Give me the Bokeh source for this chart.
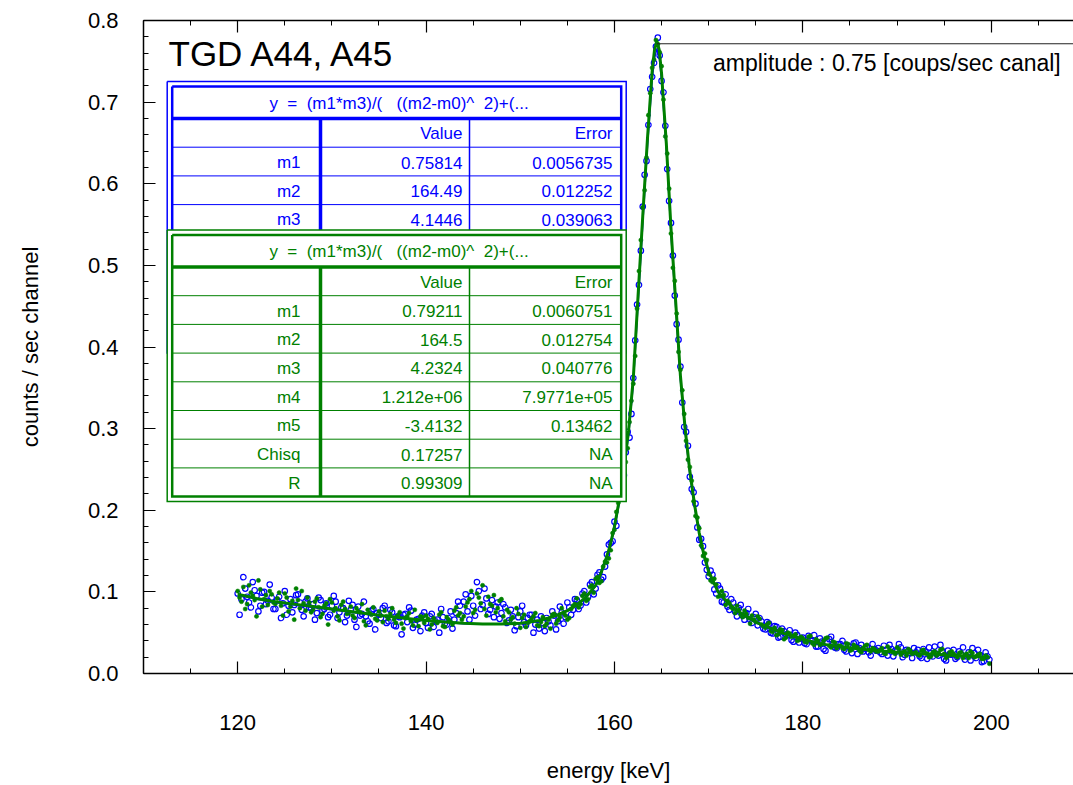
import numpy as np
from bokeh.plotting import figure
from bokeh.models import (ColumnDataSource, FixedTicker, PrintfTickFormatter,
                          LinearAxis, Range1d, CustomJSTickFormatter)
from bokeh.core.properties import value
from bokeh.embed import file_html
from bokeh.resources import INLINE

BLUE = "#0000ff"
GREEN = "#008000"
FONT = "Liberation Sans"

# ---------------- data ----------------
# blue series (open circles), channels at 120.0, 120.4, ... and 120.2, 120.6, ...
blue_energy_a = [round(120.0 + 0.4 * k, 1) for k in range(200)]
blue_counts_a = [
    0.098, 0.091, 0.104, 0.087, 0.112, 0.095, 0.083, 0.100, 0.089, 0.093,
    0.079, 0.094, 0.086, 0.072, 0.091, 0.084, 0.097, 0.078, 0.088, 0.081,
    0.085, 0.074, 0.090, 0.079, 0.069, 0.083, 0.088, 0.075, 0.080, 0.071,
    0.078, 0.066, 0.082, 0.073, 0.070, 0.061, 0.079, 0.074, 0.068, 0.083,
    0.064, 0.075, 0.058, 0.069, 0.072, 0.063, 0.077, 0.060, 0.067, 0.071,
    0.062, 0.070, 0.057, 0.066, 0.079, 0.061, 0.068, 0.055, 0.074, 0.083,
    0.088, 0.076, 0.095, 0.071, 0.101, 0.084, 0.092, 0.078, 0.069, 0.087,
    0.074, 0.081, 0.065, 0.070, 0.058, 0.076, 0.063, 0.068, 0.072, 0.060,
    0.055, 0.062, 0.068, 0.059, 0.071, 0.064, 0.075, 0.069, 0.081, 0.078,
    0.090, 0.083, 0.101, 0.094, 0.112, 0.104, 0.124, 0.118, 0.146, 0.160,
    0.186, 0.214, 0.228, 0.271, 0.289, 0.362, 0.452, 0.518, 0.611, 0.672,
    0.731, 0.768, 0.757, 0.712, 0.618, 0.552, 0.463, 0.409, 0.332, 0.296,
    0.241, 0.222, 0.179, 0.165, 0.136, 0.119, 0.121, 0.098, 0.104, 0.087,
    0.082, 0.091, 0.076, 0.080, 0.071, 0.074, 0.066, 0.069, 0.059, 0.064,
    0.054, 0.061, 0.049, 0.057, 0.045, 0.052, 0.047, 0.041, 0.050, 0.038,
    0.044, 0.036, 0.041, 0.047, 0.033, 0.039, 0.028, 0.042, 0.035, 0.031,
    0.036, 0.029, 0.034, 0.025, 0.038, 0.031, 0.027, 0.033, 0.022, 0.030,
    0.031, 0.024, 0.029, 0.035, 0.021, 0.027, 0.032, 0.023, 0.028, 0.019,
    0.026, 0.021, 0.030, 0.018, 0.025, 0.033, 0.022, 0.027, 0.016, 0.024,
    0.029, 0.020, 0.024, 0.017, 0.026, 0.031, 0.019, 0.023, 0.015, 0.021,
]
blue_energy_b = [round(120.2 + 0.4 * k, 1) for k in range(200)]
blue_counts_b = [
    0.072, 0.118, 0.094, 0.081, 0.102, 0.076, 0.099, 0.085, 0.109, 0.079,
    0.090, 0.068, 0.101, 0.083, 0.075, 0.096, 0.087, 0.070, 0.092, 0.080,
    0.066, 0.093, 0.077, 0.086, 0.072, 0.095, 0.068, 0.081, 0.063, 0.089,
    0.084, 0.057, 0.071, 0.088, 0.064, 0.077, 0.054, 0.072, 0.080, 0.062,
    0.078, 0.059, 0.070, 0.048, 0.073, 0.081, 0.056, 0.066, 0.052, 0.075,
    0.056, 0.073, 0.064, 0.050, 0.069, 0.060, 0.076, 0.066, 0.088, 0.071,
    0.097, 0.066, 0.083, 0.112, 0.079, 0.104, 0.073, 0.090, 0.082, 0.067,
    0.085, 0.062, 0.078, 0.053, 0.069, 0.083, 0.059, 0.072, 0.050, 0.066,
    0.070, 0.052, 0.064, 0.076, 0.054, 0.082, 0.061, 0.087, 0.072, 0.091,
    0.079, 0.098, 0.087, 0.109, 0.097, 0.121, 0.115, 0.131, 0.158, 0.162,
    0.181, 0.232, 0.243, 0.296, 0.318, 0.408, 0.476, 0.572, 0.628, 0.716,
    0.748, 0.779, 0.726, 0.671, 0.579, 0.512, 0.428, 0.376, 0.302, 0.279,
    0.226, 0.208, 0.164, 0.156, 0.127, 0.126, 0.103, 0.108, 0.088, 0.097,
    0.078, 0.087, 0.070, 0.084, 0.066, 0.079, 0.062, 0.073, 0.068, 0.055,
    0.063, 0.050, 0.058, 0.044, 0.055, 0.048, 0.053, 0.039, 0.047, 0.043,
    0.037, 0.046, 0.040, 0.033, 0.043, 0.030, 0.038, 0.045, 0.032, 0.036,
    0.040, 0.027, 0.033, 0.037, 0.024, 0.035, 0.030, 0.026, 0.036, 0.028,
    0.026, 0.034, 0.022, 0.030, 0.028, 0.036, 0.020, 0.029, 0.025, 0.031,
    0.029, 0.019, 0.027, 0.032, 0.021, 0.024, 0.035, 0.018, 0.028, 0.023,
    0.018, 0.027, 0.032, 0.021, 0.016, 0.025, 0.029, 0.014, 0.026, 0.017,
]
# green series (filled dots)
green_energy_a = [round(120.2 + 0.4 * k, 1) for k in range(200)]
green_counts_a = [
    0.093, 0.106, 0.085, 0.099, 0.090, 0.114, 0.082, 0.096, 0.101, 0.087,
    0.092, 0.083, 0.098, 0.076, 0.089, 0.104, 0.080, 0.086, 0.093, 0.075,
    0.088, 0.081, 0.073, 0.086, 0.091, 0.077, 0.070, 0.084, 0.079, 0.074,
    0.071, 0.080, 0.075, 0.064, 0.078, 0.072, 0.067, 0.076, 0.063, 0.070,
    0.073, 0.066, 0.071, 0.061, 0.068, 0.074, 0.059, 0.065, 0.070, 0.062,
    0.067, 0.060, 0.064, 0.072, 0.058, 0.069, 0.063, 0.077, 0.071, 0.066,
    0.082, 0.091, 0.074, 0.098, 0.086, 0.079, 0.094, 0.083, 0.075, 0.089,
    0.070, 0.078, 0.066, 0.061, 0.073, 0.068, 0.057, 0.064, 0.070, 0.059,
    0.063, 0.058, 0.066, 0.072, 0.061, 0.069, 0.074, 0.066, 0.079, 0.085,
    0.081, 0.095, 0.089, 0.106, 0.099, 0.118, 0.113, 0.137, 0.141, 0.172,
    0.198, 0.214, 0.252, 0.276, 0.334, 0.389, 0.493, 0.571, 0.632, 0.711,
    0.752, 0.771, 0.744, 0.658, 0.594, 0.497, 0.441, 0.372, 0.318, 0.262,
    0.236, 0.193, 0.178, 0.144, 0.139, 0.114, 0.116, 0.094, 0.101, 0.084,
    0.086, 0.079, 0.083, 0.072, 0.077, 0.068, 0.071, 0.063, 0.067, 0.058,
    0.060, 0.052, 0.056, 0.048, 0.053, 0.044, 0.049, 0.046, 0.040, 0.045,
    0.039, 0.045, 0.037, 0.042, 0.035, 0.040, 0.044, 0.032, 0.038, 0.034,
    0.031, 0.037, 0.028, 0.035, 0.032, 0.026, 0.034, 0.029, 0.031, 0.027,
    0.029, 0.025, 0.033, 0.027, 0.024, 0.030, 0.026, 0.022, 0.028, 0.025,
    0.023, 0.028, 0.025, 0.020, 0.026, 0.022, 0.029, 0.024, 0.021, 0.027,
    0.022, 0.025, 0.019, 0.024, 0.027, 0.020, 0.023, 0.018, 0.022, 0.012,
]
green_energy_b = [round(120.0 + 0.4 * k, 1) for k in range(200)]
green_counts_b = [
    0.101, 0.088, 0.079, 0.108, 0.095, 0.070, 0.103, 0.091, 0.084, 0.097,
    0.085, 0.099, 0.071, 0.093, 0.082, 0.066, 0.090, 0.101, 0.077, 0.087,
    0.078, 0.092, 0.069, 0.083, 0.060, 0.087, 0.080, 0.065, 0.088, 0.073,
    0.082, 0.068, 0.076, 0.085, 0.059, 0.074, 0.081, 0.065, 0.071, 0.077,
    0.067, 0.080, 0.062, 0.075, 0.055, 0.070, 0.064, 0.078, 0.058, 0.069,
    0.071, 0.054, 0.068, 0.062, 0.075, 0.057, 0.066, 0.060, 0.081, 0.074,
    0.070, 0.087, 0.101, 0.078, 0.093, 0.108, 0.071, 0.085, 0.096, 0.080,
    0.091, 0.064, 0.075, 0.069, 0.080, 0.056, 0.072, 0.062, 0.067, 0.074,
    0.058, 0.069, 0.061, 0.055, 0.073, 0.065, 0.080, 0.071, 0.068, 0.083,
    0.092, 0.085, 0.098, 0.091, 0.108, 0.116, 0.111, 0.131, 0.136, 0.151,
    0.176, 0.209, 0.238, 0.259, 0.308, 0.355, 0.447, 0.531, 0.592, 0.684,
    0.742, 0.776, 0.761, 0.703, 0.637, 0.539, 0.481, 0.394, 0.347, 0.285,
    0.253, 0.211, 0.191, 0.157, 0.147, 0.122, 0.112, 0.109, 0.095, 0.096,
    0.089, 0.081, 0.074, 0.078, 0.069, 0.073, 0.061, 0.066, 0.070, 0.060,
    0.056, 0.062, 0.051, 0.047, 0.054, 0.042, 0.050, 0.045, 0.048, 0.041,
    0.043, 0.038, 0.046, 0.035, 0.040, 0.036, 0.043, 0.034, 0.039, 0.031,
    0.034, 0.030, 0.036, 0.029, 0.033, 0.028, 0.031, 0.035, 0.027, 0.030,
    0.027, 0.031, 0.024, 0.029, 0.026, 0.032, 0.023, 0.027, 0.030, 0.024,
    0.026, 0.022, 0.029, 0.024, 0.021, 0.027, 0.025, 0.030, 0.019, 0.026,
    0.024, 0.020, 0.026, 0.023, 0.019, 0.025, 0.021, 0.024, 0.018, 0.020,
]

fit_energy = [120, 122, 124, 126, 128, 130, 132, 134, 136, 138, 140, 142, 144, 146, 148, 150,
              151, 152, 153, 154, 155, 156, 157,
              158, 158.5, 159, 159.5, 160, 160.5, 161, 161.5, 162, 162.5, 163, 163.5, 164,
              164.25, 164.5, 164.75,
              165, 165.5, 166, 166.5, 167, 167.5, 168, 168.5, 169, 169.5, 170,
              171, 172, 173, 174, 175, 176,
              178, 180, 182, 184, 186, 188, 190, 192, 194, 196, 198, 199.5]
green_fit = [0.097, 0.092, 0.088, 0.085, 0.082, 0.079, 0.076, 0.073, 0.070, 0.0675, 0.065, 0.063, 0.0615, 0.0607, 0.0605, 0.0615,
             0.063, 0.065, 0.068, 0.072, 0.077, 0.084, 0.094,
             0.108, 0.121, 0.137, 0.155, 0.180, 0.212, 0.252, 0.298, 0.362, 0.462, 0.560, 0.655, 0.738,
             0.764, 0.775, 0.764,
             0.735, 0.650, 0.545, 0.455, 0.365, 0.300, 0.248, 0.207, 0.172, 0.145, 0.125,
             0.100, 0.087, 0.077, 0.070, 0.063, 0.058,
             0.049, 0.042, 0.036, 0.033, 0.030, 0.028, 0.026, 0.0245, 0.0235, 0.022, 0.021, 0.020]
blue_fit = [0.096, 0.091, 0.087, 0.084, 0.081, 0.078, 0.075, 0.072, 0.0695, 0.067, 0.0645, 0.0625, 0.061, 0.0603, 0.0602, 0.0612,
            0.0625, 0.0645, 0.0675, 0.0715, 0.0765, 0.0835, 0.093,
            0.107, 0.120, 0.135, 0.153, 0.177, 0.208, 0.247, 0.292, 0.355, 0.452, 0.550, 0.645, 0.727,
            0.754, 0.765, 0.755,
            0.726, 0.642, 0.538, 0.448, 0.359, 0.295, 0.244, 0.204, 0.170, 0.143, 0.123,
            0.099, 0.086, 0.076, 0.069, 0.062, 0.057,
            0.048, 0.041, 0.0355, 0.0325, 0.0297, 0.0277, 0.0258, 0.0243, 0.0232, 0.0218, 0.0208, 0.0199]

x_ticks = [120, 140, 160, 180, 200]
x_minor = [110 + 5 * i for i in range(20)]
y_ticks = [round(0.1 * i, 1) for i in range(9)]
y_minor = [round(0.02 * i, 2) for i in range(41)]

title_text = "TGD A44, A45"
amp_text = "amplitude : 0.75 [coups/sec canal]"
amp_level = 0.7715
amp_peak = 164.5

NB = "\u00a0"
formula_text = "y " + NB + "= " + NB + "(m1*m3)/( " + NB + NB + "((m2-m0)^ " + NB + "2)+(..."
table_header = ["", "Value", "Error"]
blue_rows = [["m1", "0.75814", "0.0056735"],
             ["m2", "164.49", "0.012252"],
             ["m3", "4.1446", "0.039063"]]
green_rows = [["m1", "0.79211", "0.0060751"],
              ["m2", "164.5", "0.012754"],
              ["m3", "4.2324", "0.040776"],
              ["m4", "1.212e+06", "7.9771e+05"],
              ["m5", "-3.4132", "0.13462"],
              ["Chisq", "0.17257", "NA"],
              ["R", "0.99309", "NA"]]

# ---------------- figure ----------------
X0, X1 = 110.0, 208.73
Y0, Y1 = 0.0, 0.8
FRAME_L, FRAME_R, FRAME_T, FRAME_B = 143.0, 1073.0, 20.0, 673.0


def px_x(px):
    return X0 + (px - FRAME_L) * (X1 - X0) / (FRAME_R - FRAME_L)


def px_y(py):
    return Y1 - (py - FRAME_T) * (Y1 - Y0) / (FRAME_B - FRAME_T)


p = figure(width=1073, height=785, x_range=Range1d(X0, X1), y_range=Range1d(Y0, Y1),
           output_backend="svg", toolbar_location=None,
           min_border_left=143, min_border_right=0, min_border_top=20, min_border_bottom=112,
           x_axis_label="energy [keV]", y_axis_label="counts / sec channel")
p.grid.visible = False
p.outline_line_color = None
p.background_fill_color = "white"
p.border_fill_color = "white"

xa = p.below[0]
ya = p.left[0]
for ax in (xa, ya):
    ax.axis_line_color = "black"
    ax.axis_line_width = 1.5
    ax.major_tick_line_color = "black"
    ax.minor_tick_line_color = "black"
    ax.major_tick_line_width = 1.2
    ax.minor_tick_line_width = 1.0
    ax.major_tick_in = 12
    ax.major_tick_out = 0
    ax.minor_tick_in = 5
    ax.minor_tick_out = 0
    ax.major_label_text_font = FONT
    ax.major_label_text_font_size = "22px"
    ax.major_label_text_color = "black"
    ax.axis_label_text_font = FONT
    ax.axis_label_text_font_size = "22px"
    ax.axis_label_text_font_style = "normal"
    ax.axis_label_text_color = "black"

xa.ticker = FixedTicker(ticks=x_ticks, minor_ticks=x_minor)
xa.major_label_standoff = 41
xa.axis_label_standoff = 25
ya.ticker = FixedTicker(ticks=y_ticks, minor_ticks=y_minor)
ya.formatter = PrintfTickFormatter(format="%.1f")
ya.major_label_standoff = 25
ya.axis_label_standoff = 42

top = LinearAxis(ticker=FixedTicker(ticks=x_ticks, minor_ticks=x_minor),
                 formatter=CustomJSTickFormatter(code="return ''"),
                 major_label_text_font_size="0px", major_label_standoff=0,
                 axis_line_color="black", axis_line_width=1.5,
                 major_tick_in=12, major_tick_out=0, minor_tick_in=5, minor_tick_out=0,
                 major_tick_line_width=1.2)
p.add_layout(top, "above")

# ---------------- data marks ----------------
blue_src = ColumnDataSource(dict(x=blue_energy_a + blue_energy_b, y=blue_counts_a + blue_counts_b))
green_src = ColumnDataSource(dict(x=green_energy_a + green_energy_b, y=green_counts_a + green_counts_b))
p.scatter(x="x", y="y", source=blue_src, marker="circle", size=5.5,
          fill_color=None, line_color=BLUE, line_width=1.2)
p.scatter(x="x", y="y", source=green_src, marker="circle", size=4.2,
          fill_color=GREEN, line_color=GREEN, line_width=0.5)
p.line(fit_energy, blue_fit, line_color=BLUE, line_width=1.5)
p.line(fit_energy, green_fit, line_color=GREEN, line_width=3)

# amplitude marker line
p.segment(x0=[amp_peak], x1=[X1], y0=[amp_level], y1=[amp_level],
          line_color="#222222", line_width=1.2)
p.text(x=[px_x(712.5)], y=[px_y(62.0)], text=[amp_text], text_font=value(FONT),
       text_font_size="23px", text_color="black", text_align="left",
       text_baseline="middle")
p.text(x=[px_x(168)], y=[px_y(53.2)], text=[title_text], text_font=value(FONT),
       text_font_size="35px", text_color="black", text_align="left",
       text_baseline="middle")


# ---------------- tables ----------------
def draw_table(top_in, color, rows):
    L_in, R_in = 171.7, 620.7
    L_out, R_out = L_in - 5, R_in + 5
    top_out = top_in - 5
    hdr = top_in + 32
    rh = 28.7
    bot_in = hdr + 8 * rh
    bot_out = bot_in + 5

    p.quad(left=[px_x(L_out)], right=[px_x(R_out)], top=[px_y(top_out)],
           bottom=[px_y(bot_out)], fill_color="white", line_color=None)

    def rect(l, r, t, b, w):
        p.multi_line(xs=[[px_x(l), px_x(r), px_x(r), px_x(l), px_x(l)]],
                     ys=[[px_y(t), px_y(t), px_y(b), px_y(b), px_y(t)]],
                     line_color=color, line_width=w, line_join="miter")

    rect(L_out, R_out, top_out, bot_out, 1.5)
    rect(L_in, R_in, top_in, bot_in, 2.5)
    p.segment(x0=[px_x(L_in)], x1=[px_x(R_in)], y0=[px_y(hdr)], y1=[px_y(hdr)],
              line_color=color, line_width=3.5)
    ys = [px_y(hdr + k * rh) for k in range(1, 8)]
    p.segment(x0=[px_x(L_in)] * 7, x1=[px_x(R_in)] * 7, y0=ys, y1=ys,
              line_color=color, line_width=1)
    p.segment(x0=[px_x(320)], x1=[px_x(320)], y0=[px_y(hdr)], y1=[px_y(bot_in)],
              line_color=color, line_width=3.5)
    p.segment(x0=[px_x(469)], x1=[px_x(469)], y0=[px_y(hdr)], y1=[px_y(bot_in)],
              line_color=color, line_width=1.5)

    p.text(x=[px_x(398.5)], y=[px_y(top_in + 16.5)], text=[formula_text],
           text_font=value(FONT), text_font_size="17px", text_color=color,
           text_align="center", text_baseline="middle")
    all_rows = [table_header] + rows
    col_right = [300, 462, 612]
    xs, yv, tx = [], [], []
    for i, row in enumerate(all_rows):
        yc = hdr + (i + 0.5) * rh + 1
        for j, t in enumerate(row):
            if t:
                xs.append(px_x(col_right[j]))
                yv.append(px_y(yc))
                tx.append(t)
    src = ColumnDataSource(dict(x=xs, y=yv, text=tx))
    p.text(x="x", y="y", text="text", source=src, text_font=value(FONT),
           text_font_size="17px", text_color=color, text_align="right",
           text_baseline="middle")


draw_table(86.0, BLUE, blue_rows)
draw_table(234.5, GREEN, green_rows)

open("out.html", "w").write(file_html(p, INLINE))
